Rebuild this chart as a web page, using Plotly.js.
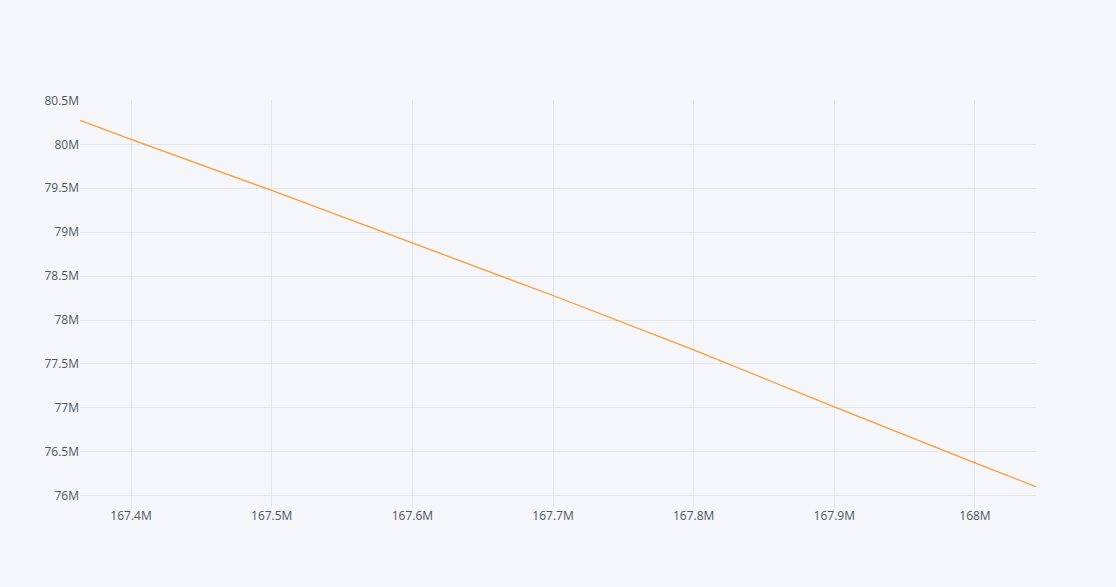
<!DOCTYPE html>
<html>
<head>
<meta charset="utf-8">
<script src="https://cdn.plot.ly/plotly-3.0.1.min.js"></script>
<style>html,body{margin:0;padding:0;background:#F5F6F9;}</style>
</head>
<body>
<div id="chart" style="width:1116px;height:587px;"></div>
<script>
const xValues = [167363700, 167400000, 167500000, 167600000, 167700000, 167800000, 167900000, 168000000, 168043400];
const yValues = [80273500, 80057000, 79476000, 78880000, 78279000, 77660000, 77010000, 76373000, 76102600];

const trace = {
  x: xValues,
  y: yValues,
  type: 'scatter',
  mode: 'lines',
  line: {color: '#FF9933', width: 1.3},
  showlegend: false
};

const layout = {
  width: 1116,
  height: 587,
  paper_bgcolor: '#F5F6F9',
  plot_bgcolor: '#F5F6F9',
  margin: {l: 80, r: 80, t: 100, b: 80},
  font: {family: '"Open Sans", sans-serif', color: '#4D5663', size: 12},
  xaxis: {
    gridcolor: '#E1E5ED',
    zerolinecolor: '#E1E5ED',
    showline: false,
    tickfont: {color: '#4D5663'},
    title: {text: ''}
  },
  yaxis: {
    gridcolor: '#E1E5ED',
    zerolinecolor: '#E1E5ED',
    showline: false,
    tickfont: {color: '#4D5663'},
    title: {text: ''}
  }
};

Plotly.newPlot('chart', [trace], layout, {displayModeBar: false});
</script>
</body>
</html>
